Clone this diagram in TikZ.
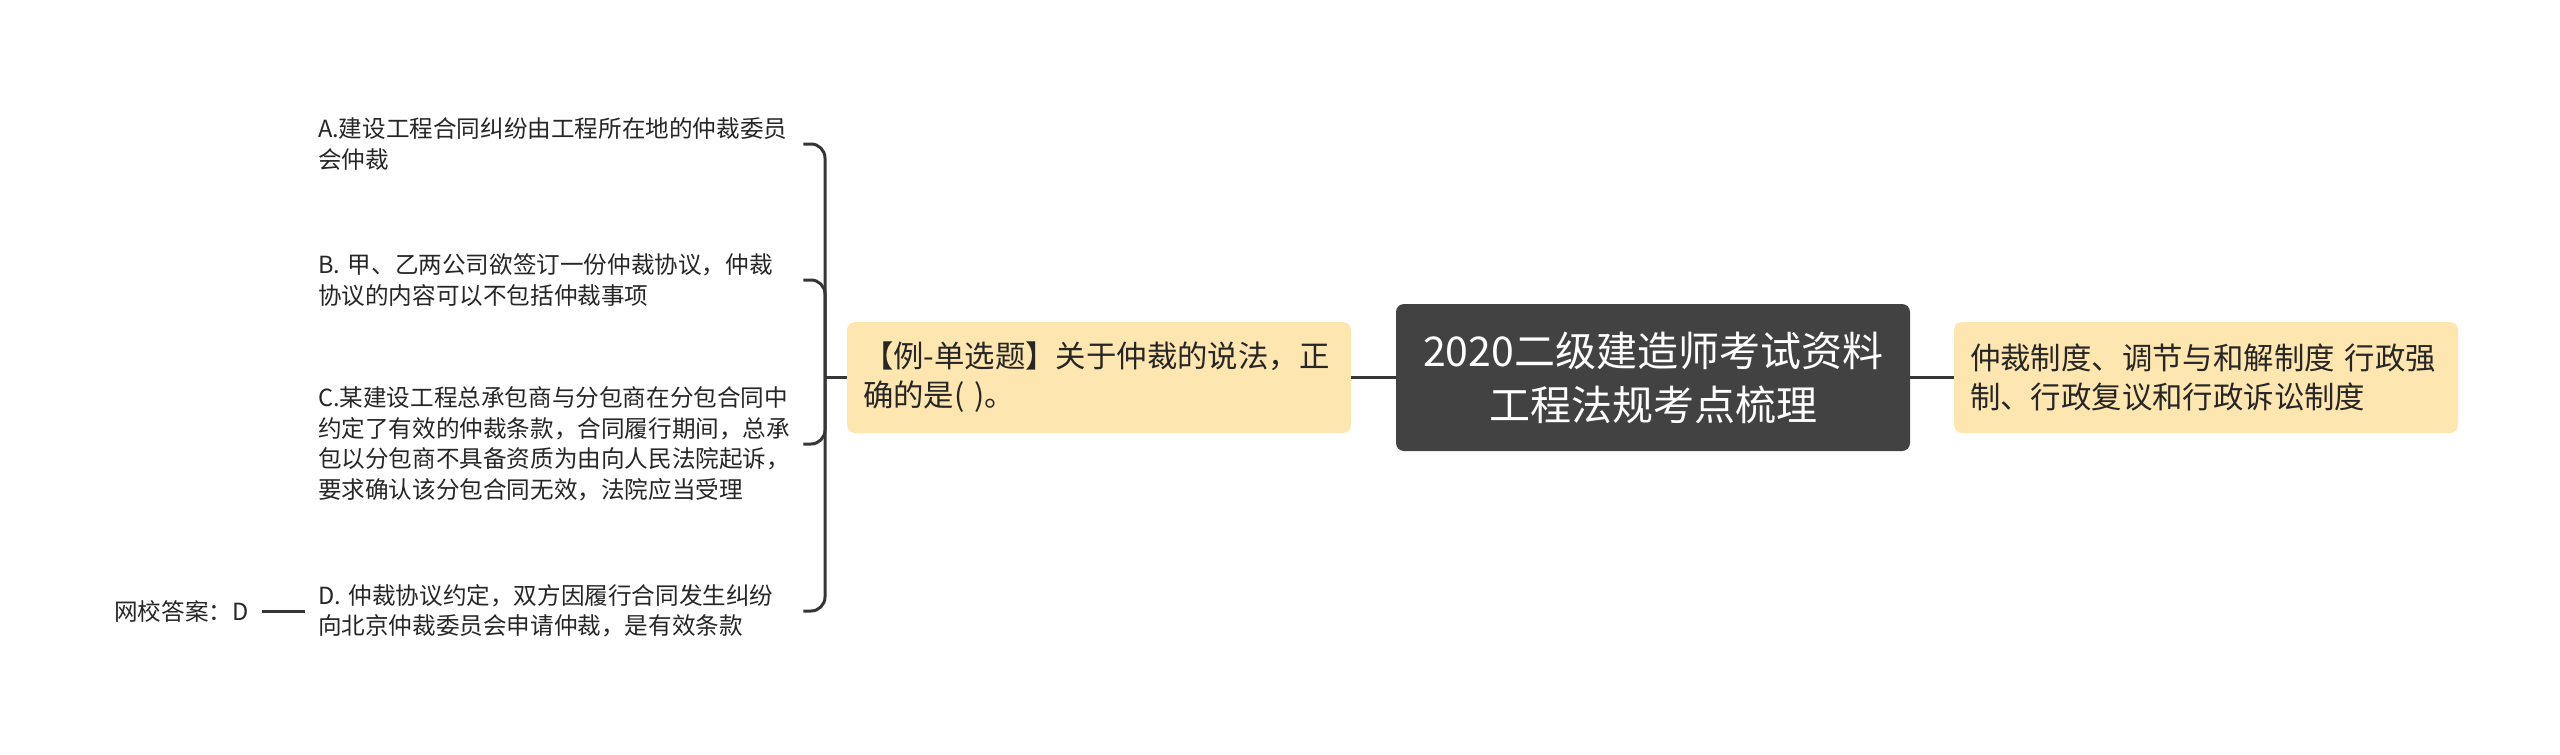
\documentclass[tikz,border=0pt]{standalone}
\usepackage{fontspec}
\setmainfont{Noto Sans CJK SC}
\definecolor{topicgray}{HTML}{424242}
\definecolor{subyellow}{HTML}{FEE6B0}
\definecolor{linegray}{HTML}{363636}
\definecolor{textgray}{HTML}{262626}
\begin{document}
\begin{tikzpicture}[x=0.5pt,y=-0.5pt,
    topicbox/.style={fill=topicgray,text=white,rounded corners=4pt,
      minimum width=257pt,minimum height=73.5pt,align=center,
      font=\fontsize{20.5}{27}\selectfont},
    subbox/.style={fill=subyellow,text=textgray,rounded corners=4pt,
      text width=236pt,inner xsep=8pt,minimum height=55.5pt,align=left,
      font=\fontsize{15.2}{19.5}\selectfont},
    optbox/.style={text=textgray,text width=236pt,inner xsep=6.5pt,align=left,
      font=\fontsize{11.8}{15.25}\selectfont},
    link/.style={draw=linegray,line width=1.5pt}]
  \useasboundingbox (0,0) rectangle (2560,755);

  \node[topicbox] (topic) at (1653,377.5) {2020二级建造师考试资料\\工程法规考点梳理};
  \node[subbox] (ask) at (1099,377.5) {【例-单选题】关于仲裁的说法，正\\确的是( )。};
  \node[subbox] (sys) at (2206,377.5) {仲裁制度、调节与和解制度 行政强\\制、行政复议和行政诉讼制度};
  \draw[link] (ask) -- (topic);
  \draw[link] (topic) -- (sys);

  %%%%%%%%%%%%%%%%%%%%%%%%%%%%%%%%%%%%%%%%%%%%%%%%%%%%%%%%%%%%%%%%%%%%%%%%%%%
  %%%%  options
  \node[optbox] (optA) at (554,144) {A.建设工程合同纠纷由工程所在地的仲裁委员\\会仲裁};
  \node[optbox] (optB) at (554,280) {B. 甲、乙两公司欲签订一份仲裁协议，仲裁\\协议的内容可以不包括仲裁事项};
  \node[optbox] (optC) at (554,444) {C.某建设工程总承包商与分包商在分包合同中\\约定了有效的仲裁条款，合同履行期间，总承\\包以分包商不具备资质为由向人民法院起诉，\\要求确认该分包合同无效，法院应当受理};
  \node[optbox] (optD) at (554,611) {D. 仲裁协议约定，双方因履行合同发生纠纷\\向北京仲裁委员会申请仲裁，是有效条款};

  \coordinate (fork) at (825,377.5);
  \draw[link] (ask.west) -- (fork);
  \foreach \o in {optA,optB,optC,optD}
   {\draw[link,rounded corners=7pt] (fork) |- (\o.east);}

  \node[text=textgray,inner xsep=6.5pt,anchor=east,
    font=\fontsize{11.8}{15.25}\selectfont] (ans) at (262,611) {网校答案：D};
  \draw[link] (ans) -- (optD);
\end{tikzpicture}
\end{document}
